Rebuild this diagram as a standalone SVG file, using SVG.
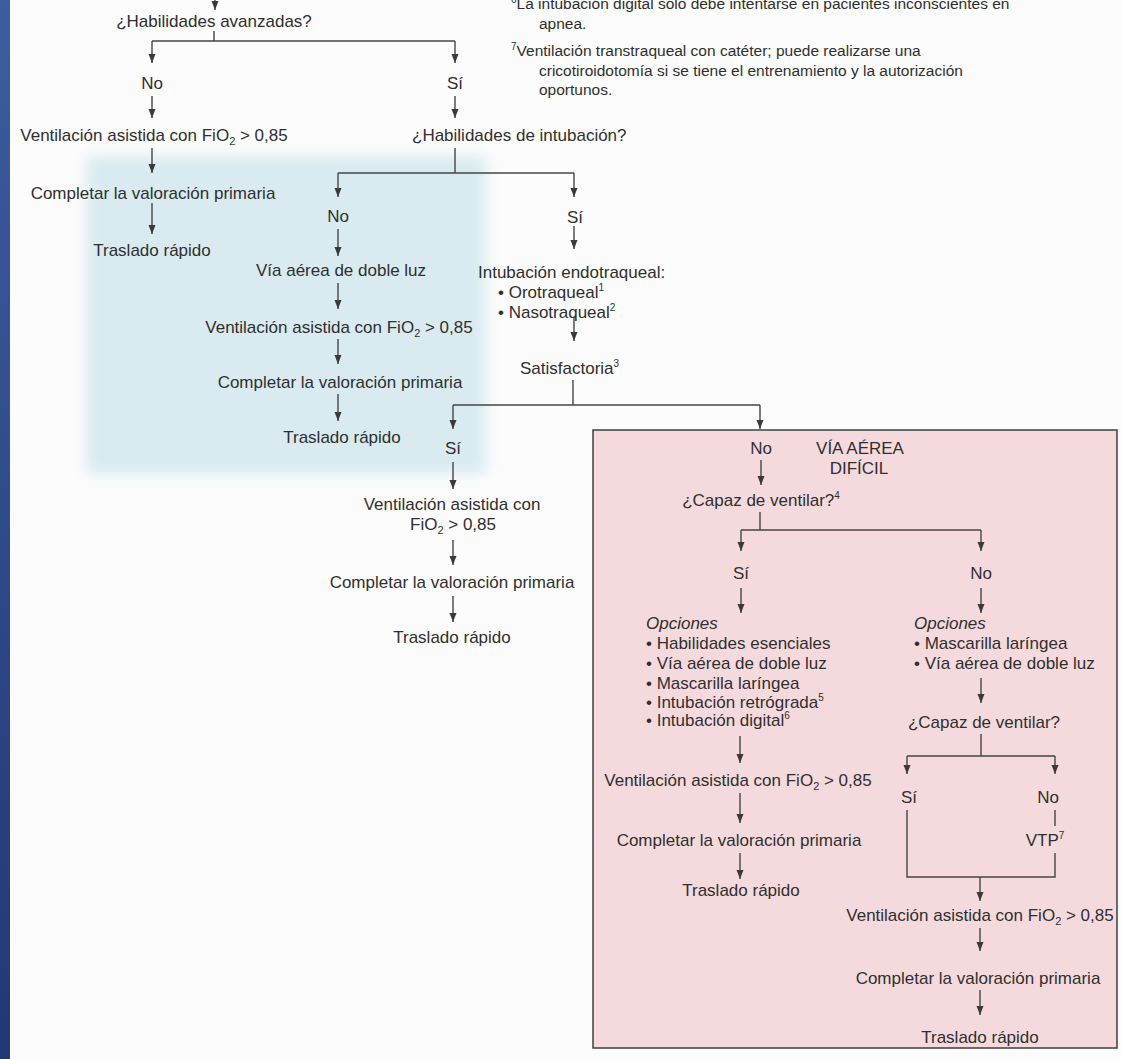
<svg xmlns="http://www.w3.org/2000/svg" width="1122" height="1059" viewBox="0 0 1122 1059">
<defs>
<linearGradient id="bar" x1="0" y1="0" x2="0" y2="1">
<stop offset="0" stop-color="#3d5d9f"/>
<stop offset="1" stop-color="#223872"/>
</linearGradient>
<filter id="soft" x="-10%" y="-10%" width="120%" height="120%"><feGaussianBlur stdDeviation="7"/></filter>
<marker id="ah" markerUnits="userSpaceOnUse" markerWidth="10" markerHeight="8" refX="9" refY="3.5" orient="auto"><path d="M0,0 L9,3.5 L0,7 z" fill="#3a3a3a"/></marker>
<style>
text{font-family:"Liberation Sans",Arial,sans-serif;font-size:17px;fill:#2f2f2f}
.m{text-anchor:middle}
.fn{font-size:15.5px}
.it{font-style:italic}
.sup{font-size:10px}
.sub{font-size:11px}
.c line,.c path{stroke:#454545;stroke-width:1.4;fill:none}
.a{marker-end:url(#ah)}
</style>
</defs>
<rect x="0" y="0" width="1122" height="1059" fill="#fcfcfc"/>
<rect x="86" y="156" width="400" height="318" fill="#d9ebf0" filter="url(#soft)"/>
<rect x="0" y="0" width="10" height="1059" fill="url(#bar)"/>
<rect id="dificil-box" x="593" y="430" width="524" height="618" fill="#f5dadd" stroke="#4a4a4a" stroke-width="1.6"/>

<g id="footnotes">
<text class="fn" x="511" y="9"><tspan class="sup" dy="-6">6</tspan><tspan dy="6">La intubación digital sólo debe intentarse en pacientes inconscientes en</tspan></text>
<text class="fn" x="539" y="29">apnea.</text>
<text class="fn" x="511" y="56"><tspan class="sup" dy="-6">7</tspan><tspan dy="6">Ventilación transtraqueal con catéter; puede realizarse una</tspan></text>
<text class="fn" x="539" y="76">cricotiroidotomía si se tiene el entrenamiento y la autorización</text>
<text class="fn" x="539" y="95">oportunos.</text>
</g>

<g class="c" id="connectors">
<line class="a" x1="215" y1="0" x2="215" y2="10"/>
<path d="M214,31 V41 M152,41 H455"/>
<line class="a" x1="152" y1="41" x2="152" y2="63"/>
<line class="a" x1="455" y1="41" x2="455" y2="63"/>
<line class="a" x1="152" y1="96" x2="152" y2="118"/>
<line class="a" x1="455" y1="96" x2="455" y2="118"/>
<line class="a" x1="152" y1="148" x2="152" y2="173"/>
<line class="a" x1="152" y1="203" x2="152" y2="234"/>
<path d="M455,148 V173 M338,173 H574"/>
<line class="a" x1="338" y1="173" x2="338" y2="197"/>
<line class="a" x1="574" y1="173" x2="574" y2="197"/>
<line class="a" x1="338" y1="229" x2="338" y2="256"/>
<line class="a" x1="574" y1="226" x2="574" y2="249"/>
<line class="a" x1="338" y1="283" x2="338" y2="309"/>
<line class="a" x1="338" y1="339" x2="338" y2="364"/>
<line class="a" x1="338" y1="394" x2="338" y2="421"/>
<line class="a" x1="574" y1="317" x2="574" y2="341"/>
<path d="M573,380 V405 M453,405 H760"/>
<line class="a" x1="453" y1="405" x2="453" y2="429"/>
<line class="a" x1="760" y1="405" x2="760" y2="429"/>
<line class="a" x1="453" y1="462" x2="453" y2="489"/>
<line class="a" x1="453" y1="540" x2="453" y2="565"/>
<line class="a" x1="453" y1="596" x2="453" y2="622"/>
<line class="a" x1="761" y1="460" x2="761" y2="485"/>
<path d="M760,512 V530 M741,530 H981"/>
<line class="a" x1="741" y1="530" x2="741" y2="551"/>
<line class="a" x1="981" y1="530" x2="981" y2="551"/>
<line class="a" x1="741" y1="588" x2="741" y2="613"/>
<line class="a" x1="981" y1="588" x2="981" y2="613"/>
<line class="a" x1="981" y1="678" x2="981" y2="703"/>
<line class="a" x1="740" y1="736" x2="740" y2="763"/>
<line class="a" x1="740" y1="793" x2="740" y2="823"/>
<line class="a" x1="740" y1="853" x2="740" y2="879"/>
<path d="M981,734 V756 M907,756 H1055"/>
<line class="a" x1="907" y1="756" x2="907" y2="774"/>
<line class="a" x1="1055" y1="756" x2="1055" y2="774"/>
<path d="M907,810 V877 H1055 V853 M1055,810 V826"/>
<line class="a" x1="980" y1="877" x2="980" y2="901"/>
<line class="a" x1="980" y1="928" x2="980" y2="951"/>
<line class="a" x1="980" y1="990" x2="980" y2="1015"/>
</g>

<g id="n-avanzadas"><text class="m" x="214" y="27">¿Habilidades avanzadas?</text></g>
<g id="n-no1"><text class="m" x="152" y="89">No</text></g>
<g id="n-si1"><text class="m" x="455" y="89">Sí</text></g>
<g id="n-vent1"><text class="m" x="154" y="141">Ventilación asistida con FiO<tspan class="sub" dy="4">2</tspan><tspan dy="-4"> &gt; 0,85</tspan></text></g>
<g id="n-intub-q"><text x="412" y="141">¿Habilidades de intubación?</text></g>
<g id="n-comp1"><text class="m" x="153" y="199">Completar la valoración primaria</text></g>
<g id="n-tras1"><text class="m" x="152" y="256">Traslado rápido</text></g>
<g id="n-no2"><text class="m" x="338" y="222">No</text></g>
<g id="n-si2"><text class="m" x="575" y="223">Sí</text></g>
<g id="n-doble"><text class="m" x="341" y="276">Vía aérea de doble luz</text></g>
<g id="n-endo">
<text x="478" y="278">Intubación endotraqueal:</text>
<text x="498" y="298">• Orotraqueal<tspan class="sup" dy="-7">1</tspan></text>
<text x="498" y="318">• Nasotraqueal<tspan class="sup" dy="-7">2</tspan></text>
</g>
<g id="n-vent2"><text class="m" x="339" y="333">Ventilación asistida con FiO<tspan class="sub" dy="4">2</tspan><tspan dy="-4"> &gt; 0,85</tspan></text></g>
<g id="n-comp2"><text class="m" x="340" y="388">Completar la valoración primaria</text></g>
<g id="n-tras2"><text class="m" x="342" y="443">Traslado rápido</text></g>
<g id="n-satis"><text x="520" y="374">Satisfactoria<tspan class="sup" dy="-7">3</tspan></text></g>
<g id="n-si3"><text class="m" x="453" y="454">Sí</text></g>
<g id="n-vent3">
<text class="m" x="452" y="510">Ventilación asistida con</text>
<text class="m" x="453" y="530">FiO<tspan class="sub" dy="4">2</tspan><tspan dy="-4"> &gt; 0,85</tspan></text>
</g>
<g id="n-comp3"><text class="m" x="452" y="588">Completar la valoración primaria</text></g>
<g id="n-tras3"><text class="m" x="452" y="643">Traslado rápido</text></g>

<g id="n-no3"><text class="m" x="761" y="454">No</text></g>
<g id="n-via-dificil">
<text class="m" x="860" y="454">VÍA AÉREA</text>
<text class="m" x="859" y="474">DIFÍCIL</text>
</g>
<g id="n-capaz1"><text class="m" x="761" y="506">¿Capaz de ventilar?<tspan class="sup" dy="-7">4</tspan></text></g>
<g id="n-si4"><text class="m" x="741" y="579">Sí</text></g>
<g id="n-no4"><text class="m" x="981" y="579">No</text></g>
<g id="n-opc1">
<text class="it" x="646" y="629">Opciones</text>
<text x="646" y="649">• Habilidades esenciales</text>
<text x="646" y="669">• Vía aérea de doble luz</text>
<text x="646" y="689">• Mascarilla laríngea</text>
<text x="646" y="708">• Intubación retrógrada<tspan class="sup" dy="-7">5</tspan></text>
<text x="646" y="726">• Intubación digital<tspan class="sup" dy="-7">6</tspan></text>
</g>
<g id="n-opc2">
<text class="it" x="914" y="629">Opciones</text>
<text x="914" y="649">• Mascarilla laríngea</text>
<text x="914" y="669">• Vía aérea de doble luz</text>
</g>
<g id="n-vent4"><text class="m" x="738" y="786">Ventilación asistida con FiO<tspan class="sub" dy="4">2</tspan><tspan dy="-4"> &gt; 0,85</tspan></text></g>
<g id="n-comp4"><text class="m" x="739" y="846">Completar la valoración primaria</text></g>
<g id="n-tras4"><text class="m" x="741" y="896">Traslado rápido</text></g>
<g id="n-capaz2"><text class="m" x="984" y="728">¿Capaz de ventilar?</text></g>
<g id="n-si5"><text class="m" x="909" y="803">Sí</text></g>
<g id="n-no5"><text class="m" x="1048" y="803">No</text></g>
<g id="n-vtp"><text class="m" x="1045" y="846">VTP<tspan class="sup" dy="-7">7</tspan></text></g>
<g id="n-vent5"><text class="m" x="980" y="921">Ventilación asistida con FiO<tspan class="sub" dy="4">2</tspan><tspan dy="-4"> &gt; 0,85</tspan></text></g>
<g id="n-comp5"><text class="m" x="978" y="984">Completar la valoración primaria</text></g>
<g id="n-tras5"><text class="m" x="980" y="1043">Traslado rápido</text></g>
</svg>
